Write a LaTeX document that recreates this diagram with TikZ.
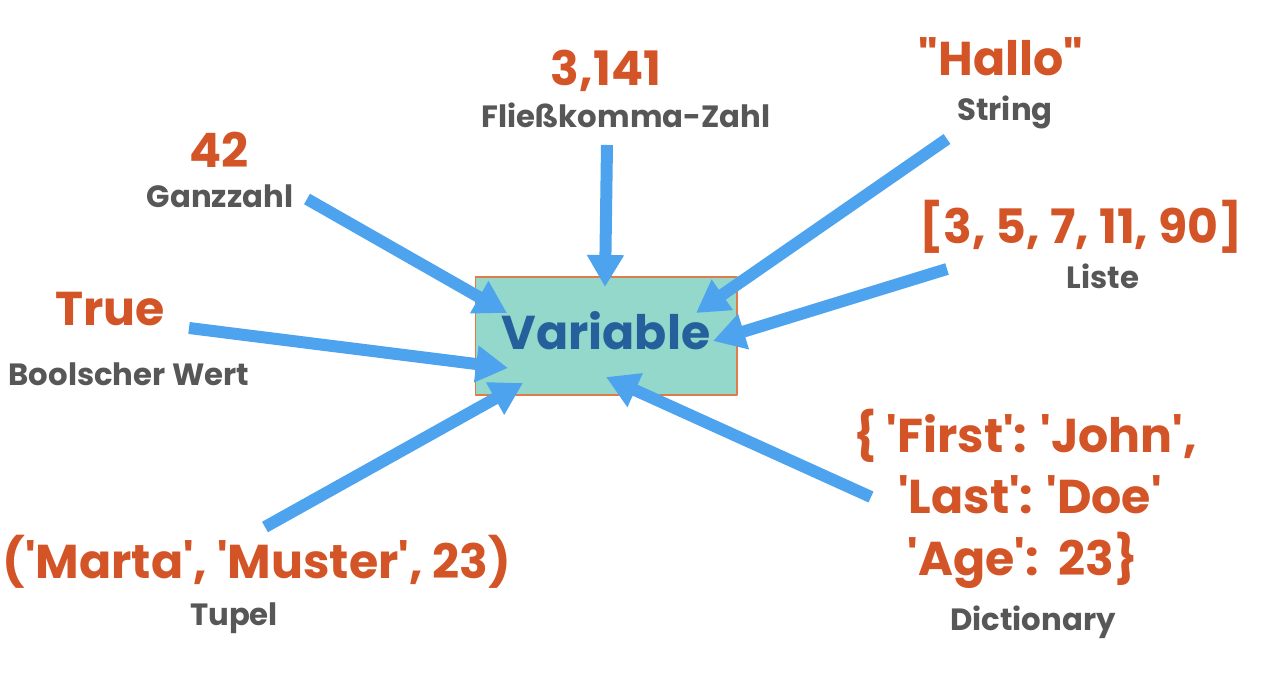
\documentclass[tikz,border=0pt]{standalone}
\usepackage{fontspec}
\setmainfont{Poppins}[Ligatures=TeXOff]
\usetikzlibrary{arrows.meta}
\definecolor{valorange}{HTML}{D35426}
\definecolor{typegray}{HTML}{575757}
\definecolor{arrowblue}{HTML}{4DA3EE}
\definecolor{boxgreen}{HTML}{93D8CA}
\definecolor{boxedge}{HTML}{E07B4A}
\definecolor{varblue}{HTML}{25609C}
\tikzset{
  value/.style={text=valorange,font=\bfseries\fontsize{27}{32}\selectfont,anchor=base,inner sep=0pt},
  typename/.style={text=typegray,font=\bfseries\fontsize{17.5}{21}\selectfont,anchor=base,inner sep=0pt},
  feed/.style={draw=arrowblue,line width=0.24cm,-{Triangle[length=0.64cm,width=0.7cm]}}
}
\begin{document}
\begin{tikzpicture}[x=0.02cm,y=-0.02cm,line join=round]
			\useasboundingbox (0,0) rectangle (1272,676);
			% central box
			\node[draw=boxedge,fill=boxgreen,line width=0.6pt,minimum width=5.24cm,minimum height=2.36cm,inner sep=0pt] (var) at (606,336) {};
			\node[text=varblue,font=\bfseries\fontsize{27}{32}\selectfont,anchor=base,inner sep=0pt] (varname) at (606,349) {Variable};
			% values and their types
			\node[value] (int) at (219,167) {42};
			\node[typename] (intname) at (220,207) {Ganzzahl};
			\node[value] (float) at (606,85) {3,141};
			\node[typename] (floatname) at (626,127) {Fließkomma-Zahl};
			\node[value] (str) at (1001,75) {"Hallo"};
			\node[typename] (strname) at (1005,120) {String};
			\node[value] (list) at (1081,243) {[3, 5, 7, 11, 90]};
			\node[typename] (listname) at (1103,288) {Liste};
			\node[value] (bool) at (110,325) {True};
			\node[typename] (boolname) at (129,385) {Boolscher Wert};
			\node[value] (tuple) at (257,578) {('Marta', 'Muster', 23)};
			\node[typename] (tuplename) at (234,625) {Tupel};
			\node[value] (dict1) at (1025,452) {\{ 'First': 'John',};
			\node[value] (dict2) at (1030,513) {'Last': 'Doe'};
			\node[value] (dict3) at (1023,575) {'Age':~~23\}};
			\node[typename] (dictname) at (1033,630) {Dictionary};
			% arrow ends
			\coordinate (intfrom) at (307,199);
			\coordinate (intto) at (507,313);
			\coordinate (floatfrom) at (607,145);
			\coordinate (floatto) at (605,287);
			\coordinate (strfrom) at (947,139);
			\coordinate (strto) at (696,313);
			\coordinate (listfrom) at (947,269);
			\coordinate (listto) at (713,341);
			\coordinate (boolfrom) at (189,328);
			\coordinate (boolto) at (508,368);
			\coordinate (tuplefrom) at (265,527);
			\coordinate (tupleto) at (523,383);
			\coordinate (dictfrom) at (871,497);
			\coordinate (dictto) at (606,377);
			\foreach \t in {int,float,str,list,bool,tuple,dict}
			{
				\draw[feed] (\t from) -- (\t to);
			}
		\end{tikzpicture}
\end{document}
